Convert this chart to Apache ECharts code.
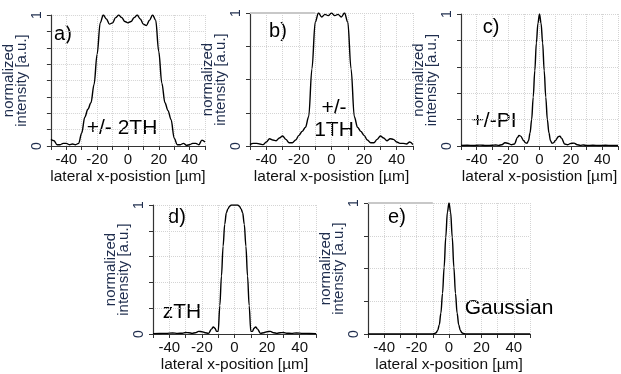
<!DOCTYPE html>
<html>
<head>
<meta charset="utf-8">
<script src="https://cdn.jsdelivr.net/npm/echarts@6/dist/echarts.min.js"></script>
<style>
html,body{margin:0;padding:0;background:#fff;}
#chart{width:621px;height:374px;}
</style>
</head>
<body>
<div id="chart"></div>
<script>
// ---------- data ----------
const xA = [-50,-48,-46,-44,-42,-40,-38,-36,-34,-32,-30,-28,-26,-24,-22,-20,-18,-16,-14,-12,-10,-8,-6,-4,-2,0,2,4,6,8,10,12,14,16,18,20,22,24,26,28,30,32,34,36,38,40,42,44,46,48,50];
const yA = [0.05,0.04,0.01,0.01,0.02,0.02,0.01,0.015,0.01,0.02,0.10,0.22,0.28,0.33,0.47,0.70,0.94,1.0,0.97,0.93,0.94,0.98,1.0,0.98,0.95,0.94,0.95,0.98,1.0,0.97,0.93,0.92,0.96,1.0,0.96,0.72,0.48,0.33,0.27,0.20,0.06,0.01,0.01,0.02,0.005,0.01,0.02,0.02,0.01,0.045,0.03];

const xB = [-50,-48,-46,-44,-42,-40,-38,-36,-34,-32,-30,-28,-26,-24,-22,-20,-18,-16,-14,-12,-10,-8,-6,-4,-2,0,2,4,6,8,10,12,14,16,18,20,22,24,26,28,30,32,34,36,38,40,42,44,46,48,50];
const yB = [0.01,0.02,0.02,0.015,0.01,0.03,0.055,0.045,0.04,0.06,0.075,0.05,0.025,0.025,0.045,0.08,0.11,0.14,0.22,0.58,0.93,1.0,0.97,0.99,0.98,1.0,0.98,0.99,0.97,1.0,0.93,0.58,0.22,0.14,0.11,0.08,0.045,0.025,0.025,0.05,0.075,0.06,0.04,0.055,0.05,0.03,0.02,0.02,0.015,0.03,0.01];

const xC = [-50,-46,-42,-38,-34,-30,-28,-26,-24,-22,-20,-18,-16,-14,-13,-12,-10,-9,-8,-7,-6,-5,-4,-3,-2,-1,0,1,2,3,4,5,6,7,8,9,10,12,13,14,16,18,20,22,24,26,28,30,34,38,42,46,50];
const yC = [0.004,0.006,0.004,0.007,0.004,0.006,0.008,0.005,0.01,0.025,0.02,0.01,0.015,0.065,0.08,0.075,0.04,0.025,0.02,0.04,0.10,0.20,0.37,0.57,0.78,0.93,1.0,0.93,0.78,0.57,0.37,0.20,0.10,0.04,0.02,0.025,0.04,0.07,0.075,0.06,0.015,0.01,0.02,0.022,0.01,0.005,0.008,0.004,0.006,0.004,0.006,0.004,0.004];

const xD = [-50,-46,-42,-38,-35,-32,-30,-28,-26,-24,-22,-20,-18,-16,-14,-13,-12,-11,-10,-9,-8,-7,-6,-5,-4,-3,-2,-1,0,1,2,3,4,5,6,7,8,9,10,11,12,13,14,16,18,20,22,24,26,28,30,32,35,38,42,46,50];
const yD = [0.003,0.004,0.005,0.008,0.005,0.006,0.012,0.01,0.005,0.01,0.02,0.018,0.01,0.005,0.04,0.055,0.045,0.02,0.02,0.22,0.45,0.68,0.85,0.94,0.97,0.99,1.0,1.0,1.0,1.0,1.0,0.99,0.97,0.94,0.85,0.68,0.45,0.22,0.02,0.02,0.045,0.055,0.04,0.005,0.01,0.018,0.02,0.01,0.005,0.01,0.012,0.006,0.005,0.008,0.005,0.004,0.003];

const xE = [-50,-40,-30,-20,-12,-10,-9,-8,-7,-6,-5,-4,-3,-2,-1,0,1,2,3,4,5,6,7,8,9,10,12,20,30,40,50];
const yE = [0,0,0,0,0,0.001,0.003,0.01,0.027,0.07,0.16,0.31,0.51,0.74,0.93,1.0,0.93,0.74,0.51,0.31,0.16,0.07,0.027,0.01,0.003,0.001,0,0,0,0,0];

const xTickLabels = [-40,-20,0,20,40];
const yTickLabels = [0,1];
const yIntervals = [0.125,0.25,0.2,0.2,0.25];
const xTitles = ['lateral x-posistion [µm]','lateral x-posistion [µm]','lateral x-posistion [µm]','lateral x-position [µm]','lateral x-position [µm]'];
const panelLabels = ['a)','b)','c)','d)','e)'];
const notes = ['+/- 2TH','+/-\n1TH','+/-PI','zTH','Gaussian'];
const topRuleSpan = [-50,-10];

// ---------- layout ----------
const FONT = '"Liberation Sans", Arial, sans-serif';
const NAVY = '#1f2d4d';
const grids = [
  {left:43, top:15, width:162, height:131},
  {left:250, top:13, width:163, height:133},
  {left:461, top:14, width:167, height:132},
  {left:153, top:205, width:163, height:131},
  {left:368, top:203, width:162, height:133}
];
const series = [[xA,yA],[xB,yB],[xC,yC],[xD,yD],[xE,yE]];

const grid = grids.map(g => Object.assign({containLabel:false}, g));
const xAxis = grids.map((g,i) => ({
  gridIndex:i, type:'value', min:-50, max:50, interval:10,
  axisLine:{show:true, onZero:false, lineStyle:{color:'#333', width:1.2}},
  axisTick:{show:true, length:4, lineStyle:{color:'#333'}},
  axisLabel:{margin:6, fontSize:15, color:'#111', fontFamily:FONT,
    formatter:v => xTickLabels.indexOf(Math.round(v))>=0 && Math.abs(v-Math.round(v))<1e-6 ? String(Math.round(v)) : ''},
  splitLine:{show:true, lineStyle:{color:'#d4d4d4', type:'dotted', width:1}},
  name:xTitles[i], nameLocation:'middle', nameGap:23,
  nameTextStyle:{fontSize:15.5, color:'#111', fontFamily:FONT}
}));
const yAxis = grids.map((g,i) => ({
  gridIndex:i, type:'value', min:0, max:1, interval:yIntervals[i],
  axisLine:{show:true, onZero:false, lineStyle:{color:'#333', width:1.2}},
  axisTick:{show:true, length:4, lineStyle:{color:'#333'}},
  axisLabel:{rotate:90, margin:7, fontSize:14, color:NAVY, fontFamily:FONT,
    formatter:v => yTickLabels.some(t => Math.abs(v-t)<1e-6) ? String(Math.round(v)) : ''},
  splitLine:{show:true, lineStyle:{color:'#d4d4d4', type:'dotted', width:1}},
  name:'normalized\nintensity [a.u.]', nameLocation:'middle', nameRotate:90, nameGap:10,
  nameTextStyle:{fontSize:15, color:NAVY, fontFamily:FONT, lineHeight:13}
}));
const seriesList = series.map((s,i) => {
  const o = {
    type:'line', xAxisIndex:i, yAxisIndex:i, showSymbol:false, smooth:0.35, smoothMonotone:'x',
    lineStyle:{color:'#000', width:1.4}, silent:true, animation:false,
    data:s[0].map((x,k) => [x, s[1][k]])
  };
  if (i===1 || i===4) {
    o.markLine = {silent:true, symbol:'none', label:{show:false},
      lineStyle:{color:'#c8c8c8', width:2, type:'solid'},
      data:[[{coord:[topRuleSpan[0],1]},{coord:[topRuleSpan[1],1]}]]};
  }
  return o;
});

const labelPos = [[63,34],[278,31],[491,27],[177,217],[397,217]];
const notePos = [[122,128],[334,119],[494,121],[182,312],[509,308]];
const graphic = [];
panelLabels.forEach((t,i) => graphic.push({type:'text', x:labelPos[i][0], y:labelPos[i][1],
  style:{text:t, font:'20px '+FONT, fill:'#000', align:'center', verticalAlign:'middle'}}));
notes.forEach((t,i) => graphic.push({type:'text', x:notePos[i][0], y:notePos[i][1],
  style:{text:t, font:'21px '+FONT, fill:'#000', align:'center', verticalAlign:'middle', lineHeight:22}}));

const chart = echarts.init(document.getElementById('chart'), null, {renderer:'canvas'});
chart.setOption({
  animation:false, backgroundColor:'#fff',
  grid, xAxis, yAxis, series:seriesList, graphic
});
</script>
</body>
</html>
